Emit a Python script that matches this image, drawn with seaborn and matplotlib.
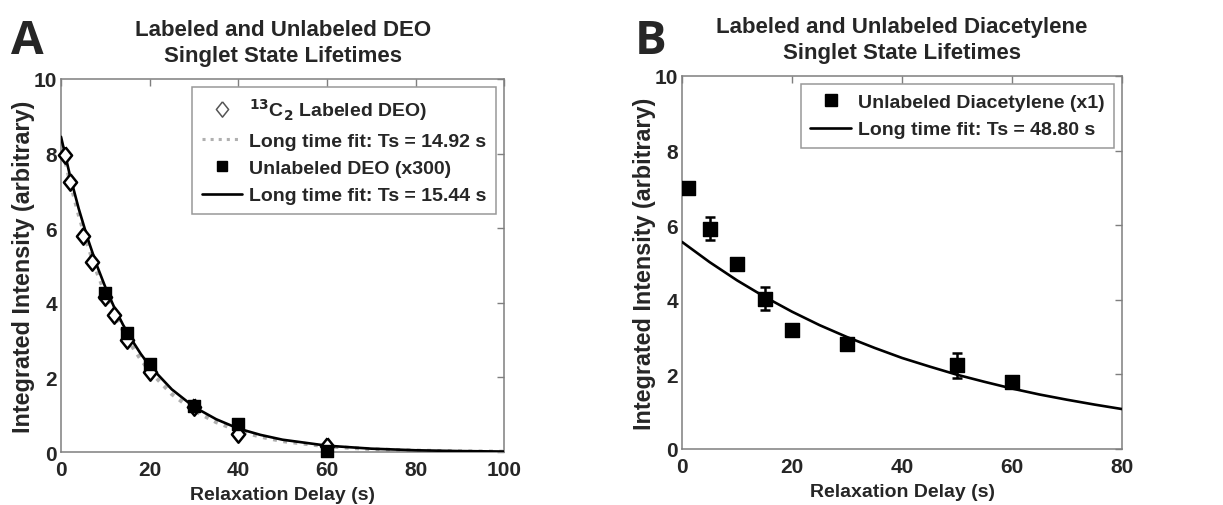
import matplotlib
matplotlib.use("Agg")
import matplotlib.pyplot as plt
import seaborn as sns

# ── data ─────────────────────────────────────────────────────────────
# panel A: DEO
deo_lab_t = [1, 2, 5, 7, 10, 12, 15, 20, 30, 40, 60]
deo_lab_i = [7.95, 7.25, 5.8, 5.1, 4.15, 3.66, 3.0, 2.14, 1.22, 0.49, 0.15]
deo_unl_t = [10, 15, 20, 30, 40, 60]
deo_unl_i = [4.25, 3.18, 2.36, 1.24, 0.75, 0.02]
deo_unl_err = [0.12, 0.1, 0.1, 0.06, 0.12, 0.06]

fit_a_t = [0, 2, 4, 6, 8, 10, 12, 14, 16, 18, 20, 25, 30, 35, 40, 45, 50,
           60, 70, 80, 90, 100]
fit_lab_i = [8.3, 7.26, 6.35, 5.55, 4.85, 4.24, 3.71, 3.25, 2.84, 2.48, 2.17,
             1.55, 1.11, 0.80, 0.57, 0.41, 0.29, 0.15, 0.076, 0.039, 0.02, 0.01]
fit_unl_i = [8.45, 7.42, 6.52, 5.73, 5.03, 4.42, 3.88, 3.41, 3.0, 2.63, 2.31,
             1.68, 1.21, 0.88, 0.63, 0.46, 0.33, 0.17, 0.09, 0.047, 0.025, 0.013]

# panel B: diacetylene
dia_t = [1, 5, 10, 15, 20, 30, 50, 60]
dia_i = [7.0, 5.9, 4.95, 4.03, 3.2, 2.81, 2.24, 1.79]
dia_err = [0.08, 0.31, 0.08, 0.31, 0.08, 0.1, 0.33, 0.1]

fit_b_t = [0, 5, 10, 15, 20, 25, 30, 35, 40, 45, 50, 55, 60, 65, 70, 75, 80]
fit_b_i = [5.55, 5.01, 4.52, 4.08, 3.68, 3.32, 3.0, 2.71, 2.44, 2.21, 1.99,
           1.80, 1.62, 1.46, 1.32, 1.19, 1.07]

sns.set_theme(style="white")
plt.rcParams["font.family"] = ["Liberation Sans", "DejaVu Sans"]
plt.rcParams["font.weight"] = "bold"
plt.rcParams["mathtext.default"] = "bf"

fig = plt.figure(figsize=(12.23, 5.06), dpi=100)
ax_a = fig.add_axes([0.0499, 0.1047, 0.3623, 0.7372])
ax_b = fig.add_axes([0.5577, 0.1107, 0.3598, 0.7372])

diamond = [(0, 1), (0.8, 0), (0, -1), (-0.8, 0), (0, 1)]
GRAY_FIT = "#b0b0b0"


def style_axes(ax, xmax, xticks):
    ax.set_xlim(0, xmax)
    ax.set_ylim(0, 10)
    ax.set_xticks(xticks)
    ax.set_yticks([0, 2, 4, 6, 8, 10])
    ax.tick_params(direction="in", length=5, width=1, color="#7f7f7f",
                   top=True, right=True, labelsize=15)
    ax.tick_params(axis="x", pad=6)
    ax.tick_params(axis="y", pad=3)
    for lab in ax.get_xticklabels() + ax.get_yticklabels():
        lab.set_fontweight("bold")
    for sp in ax.spines.values():
        sp.set_color("#7f7f7f")
        sp.set_linewidth(1.1)
    ax.set_xlabel("Relaxation Delay (s)", fontsize=14, fontweight="bold",
                  labelpad=4.5)
    ax.set_ylabel("Integrated Intensity (arbitrary)", fontsize=16.8,
                  fontweight="bold", labelpad=-1)


def style_legend(leg):
    leg.get_frame().set_edgecolor("#7f7f7f")
    leg.get_frame().set_linewidth(1.1)
    for t in leg.get_texts():
        t.set_fontweight("bold")


leg_kw = dict(loc="upper right", fontsize=14, handlelength=2.1,
              handletextpad=0.35, labelspacing=0.5, borderpad=0.5,
              borderaxespad=0.4, frameon=True, fancybox=False)

# ── panel A ──────────────────────────────────────────────────────────
ax = ax_a
sns.lineplot(x=fit_a_t, y=fit_lab_i, ax=ax, color=GRAY_FIT, lw=2.8,
             linestyle=":", estimator=None, sort=False, zorder=2)
sns.lineplot(x=fit_a_t, y=fit_unl_i, ax=ax, color="black", lw=1.9,
             estimator=None, sort=False, zorder=3)
sns.scatterplot(x=deo_lab_t, y=deo_lab_i, ax=ax, marker=diamond, s=140,
                facecolor="white", edgecolor="black", linewidth=1.8,
                zorder=4, clip_on=False)
ax.errorbar(deo_unl_t, deo_unl_i, yerr=deo_unl_err, fmt="none",
            ecolor="black", elinewidth=1.5, capsize=3, zorder=5,
            clip_on=False)
sns.scatterplot(x=deo_unl_t, y=deo_unl_i, ax=ax, marker="s", s=85,
                color="black", edgecolor="black", linewidth=1, zorder=6,
                clip_on=False)
style_axes(ax, 100, [0, 20, 40, 60, 80, 100])
ax.set_title("Labeled and Unlabeled DEO\nSinglet State Lifetimes",
             fontsize=16, fontweight="bold", pad=13, linespacing=1.3)

h_lab = plt.Line2D([], [], ls="none", marker=diamond, ms=11, mfc="white",
                   mec="#555555", mew=1.1)
h_fit_lab = plt.Line2D([], [], color=GRAY_FIT, lw=2.2, ls=":")
h_unl = plt.Line2D([], [], ls="none", marker="s", ms=7, color="black")
h_fit_unl = plt.Line2D([], [], color="black", lw=1.9)
leg = ax.legend([h_lab, h_fit_lab, h_unl, h_fit_unl],
                [r"$^{13}$C$_2$ Labeled DEO)",
                 "Long time fit: Ts = 14.92 s",
                 "Unlabeled DEO (x300)",
                 "Long time fit: Ts = 15.44 s"], **leg_kw)
style_legend(leg)

# ── panel B ──────────────────────────────────────────────────────────
ax = ax_b
sns.lineplot(x=fit_b_t, y=fit_b_i, ax=ax, color="black", lw=1.9,
             estimator=None, sort=False, zorder=3)
ax.errorbar(dia_t, dia_i, yerr=dia_err, fmt="none", ecolor="black",
            elinewidth=1.8, capsize=3.5, capthick=1.8, zorder=4)
sns.scatterplot(x=dia_t, y=dia_i, ax=ax, marker="s", s=100, color="black",
                edgecolor="black", linewidth=1, zorder=5)
style_axes(ax, 80, [0, 20, 40, 60, 80])
ax.set_title("Labeled and Unlabeled Diacetylene\nSinglet State Lifetimes",
             fontsize=16, fontweight="bold", pad=13, linespacing=1.3)

h_dia = plt.Line2D([], [], ls="none", marker="s", ms=8, color="black")
h_fit_dia = plt.Line2D([], [], color="black", lw=1.9)
leg = ax.legend([h_dia, h_fit_dia],
                ["Unlabeled Diacetylene (x1)", "Long time fit: Ts = 48.80 s"],
                **leg_kw)
style_legend(leg)

# panel letters
fig.text(0.009, 0.893, "A", fontsize=34, fontweight="bold",
         family=["Open Sans", "DejaVu Sans"])
fig.text(0.519, 0.893, "B", fontsize=34, fontweight="bold",
         family=["Open Sans", "DejaVu Sans"])

fig.savefig("out.png", dpi=100)
